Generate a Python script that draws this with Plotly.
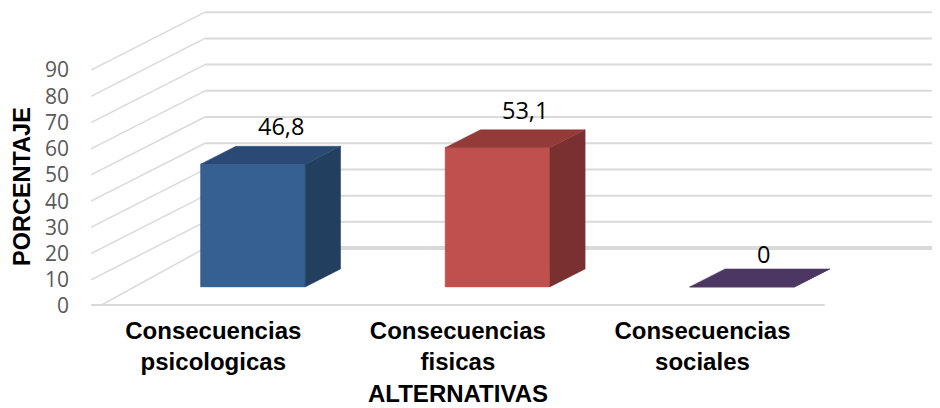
import plotly.graph_objects as go

categories = ["Consecuencias<br>psicologicas", "Consecuencias<br>fisicas", "Consecuencias<br>sociales"]
values = [46.8, 53.1, 0]
value_labels = ["46,8", "53,1", "0"]
y_ticks = [0, 10, 20, 30, 40, 50, 60, 70, 80, 90]
front_colors = ["#376092", "#C0504D", "#4B3762"]
top_colors = ["#2A4A75", "#933B39", "#4B3762"]
side_colors = ["#223F60", "#7A3030", "#3C2C4F"]
label_shift_y = [2, 2, -3]
label_shift_x = [0, 0, -7]

# oblique projection: one unit of depth shifts a point on the x and y axes
DEPTH_X = 0.466
DEPTH_Y = 22.1
BAR_W = 0.428
BAR_SHIFT = 0.008
D_FRONT = 0.33
D_BACK = 0.64
X_LEFT, X_RIGHT = -0.5, 2.5
X_MAX = 2.963
GRID = "#DADADA"


def proj(x, y, d):
    return x + d * DEPTH_X, y + d * DEPTH_Y


def poly(pts):
    xs = [proj(*p)[0] for p in pts] + [proj(*pts[0])[0]]
    ys = [proj(*p)[1] for p in pts] + [proj(*pts[0])[1]]
    return xs, ys


fig = go.Figure()


def add_line(xs, ys, width):
    fig.add_trace(go.Scatter(x=xs, y=ys, mode="lines", line=dict(color=GRID, width=width),
                             hoverinfo="skip", showlegend=False))


# walls: diagonal side wall and back wall gridlines
for t in y_ticks:
    x0, y0 = proj(X_LEFT, t, 0)
    x1, y1 = proj(X_LEFT, t, 1)
    if t == 0:
        x0 += 0.036
    add_line([x0, x1], [y0, y1], 1.5)
    add_line([x1, X_MAX], [y1, y1], 4 if t == 0 else 2)
# front floor edge
add_line([X_LEFT, X_RIGHT], [0, 0], 4)

# bars: three visible faces of each box
for i, v in enumerate(values):
    c = i + BAR_SHIFT
    l, r = c - BAR_W / 2, c + BAR_W / 2
    faces = [
        ([(l, 0, D_FRONT), (r, 0, D_FRONT), (r, v, D_FRONT), (l, v, D_FRONT)], front_colors[i]),
        ([(r, 0, D_FRONT), (r, 0, D_BACK), (r, v, D_BACK), (r, v, D_FRONT)], side_colors[i]),
        ([(l, v, D_FRONT), (r, v, D_FRONT), (r, v, D_BACK), (l, v, D_BACK)], top_colors[i]),
    ]
    for pts, col in faces:
        xs, ys = poly(pts)
        fig.add_trace(go.Scatter(x=xs, y=ys, mode="lines", fill="toself", fillcolor=col,
                                 line=dict(color=col, width=0.5), hoverinfo="skip",
                                 showlegend=False))
    lx, ly = proj(i, v, D_BACK)
    fig.add_annotation(x=lx - 0.022, y=ly, text=value_labels[i], showarrow=False,
                       xanchor="center", yanchor="bottom", xshift=label_shift_x[i],
                       yshift=label_shift_y[i],
                       font=dict(family="Open Sans", size=23.5, color="#000000"))

fig.add_annotation(xref="paper", yref="paper", x=(458 - 91) / 847, y=(306 - 393) / 298,
                   text="<b>ALTERNATIVAS</b>", showarrow=False, xanchor="center", yanchor="middle",
                   font=dict(family="Liberation Sans", size=24, color="#000000"))
fig.add_annotation(xref="paper", yref="paper", x=(22 - 91) / 847, y=(306 - 187) / 298,
                   text="<b>PORCENTAJE</b>", showarrow=False, textangle=-90, xanchor="center",
                   yanchor="middle", font=dict(family="Liberation Sans", size=23.5, color="#000000"))

fig.update_layout(
    width=932, height=400, autosize=False,
    margin=dict(l=83, r=2, t=0, b=102),
    paper_bgcolor="white", plot_bgcolor="white", showlegend=False,
    xaxis=dict(range=[X_LEFT, X_MAX], tickvals=[0, 1, 2], ticktext=categories, showgrid=False,
               zeroline=False, showline=False, ticks="", ticklabelstandoff=8,
               tickfont=dict(family="Liberation Sans", size=24, color="#000000", weight="bold")),
    yaxis=dict(range=[0, 113.7], tickvals=y_ticks, showgrid=False, zeroline=False, showline=False,
               ticks="", ticklabelstandoff=21,
               tickfont=dict(family="Open Sans", size=21, color="#595959")),
)

fig.write_html("out.html")
